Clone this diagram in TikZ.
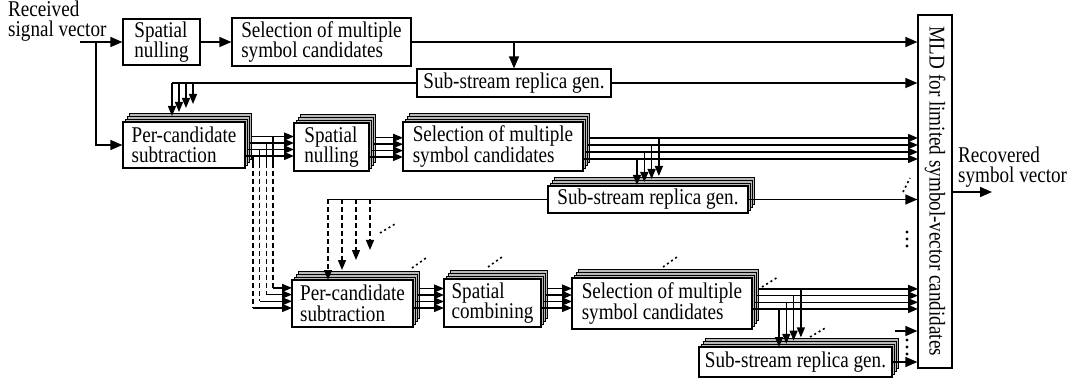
\documentclass[tikz,border=0pt]{standalone}
\usepackage{fontspec}
\setmainfont{Liberation Serif}[FakeStretch=0.85]
\usetikzlibrary{arrows.meta,calc}
\tikzset{
 box/.style={draw, fill=white, line width=1.2pt, inner sep=2pt, align=left},
 layer/.style={draw, fill=gray!55, line width=1pt},
 ln/.style={line width=1.4pt},
 arr/.style={ln, -{Triangle[length=12pt,width=10pt]}},
 sarr/.style={ln, -{Triangle[length=10pt,width=8pt]}},
 dsh/.style={ln, dash pattern=on 5pt off 3pt},
 dotsl/.style={line width=1.6pt, dash pattern=on 2pt off 3pt},
}
\newcommand\stk[6]{%
  \foreach \k in {3,2,1}{\draw[layer] ({#2+2.3*\k},{#3-2.8*\k}) rectangle ({#4+2.3*\k},{#5-2.8*\k});}
  \node[box, minimum width={#4-#2}, minimum height={#5-#3}] (#1) at ({(#2+#4)/2},{(#3+#5)/2}) {#6};
}
\newcommand\vdts{}
\renewcommand\vdts[2]{\foreach \j in {0,1,2}{\fill (#1,{#2+7*\j}) circle (1.6pt);}}
\begin{document}
\begin{tikzpicture}[x=1pt,y=-1pt, every node/.style={font=\fontsize{22.5}{20.5}\selectfont}]
\useasboundingbox (0,0) rectangle (1072,385);

\node[anchor=north west, inner sep=0, align=left] (recv) at (8,0.6) {Received\\signal vector};
\node[box, minimum width=77, minimum height=46] (sn1) at (161.5,42) {Spatial\\nulling};
\node[box, minimum width=179, minimum height=48] (sel1) at (321.5,42) {Selection of multiple\\symbol candidates};
\node[box, minimum width=194, minimum height=28] (rep1) at (514,83) {Sub-stream replica gen.};
\node[box, minimum width=34, minimum height=353] (mld) at (935,191.5) {};
\node[rotate=-90] (mldt) at (mld.center) {MLD for limited symbol-vector candidates};
\node[anchor=north west, inner sep=0, align=left] (outt) at (958,146.6) {Recovered\\symbol vector};

\stk{pc1}{123}{122}{245}{168}{Per-candidate\\subtraction}
\stk{sn2}{294}{123}{369}{171}{Spatial\\nulling}
\stk{sel2}{403}{122}{583}{171}{Selection of multiple\\symbol candidates}
\stk{rep2}{548}{186}{748}{213}{Sub-stream replica gen.}
\stk{pc2}{292}{280}{413}{327}{Per-candidate\\subtraction}
\stk{sc}{444}{279}{541}{327}{Spatial\\combining}
\stk{sel3}{572}{278}{752}{329}{Selection of multiple\\symbol candidates}
\stk{rep3}{699}{347}{892}{377}{Sub-stream replica gen.}

% top row
\coordinate (in) at (80,42);
\draw[arr] (in) -- (sn1.west);
\draw[arr] (sn1.east) -- (sel1.west);
\draw[arr] (sel1.east) -- (sel1.east -| mld.west);
\draw[arr] (sel1.east -| rep1.north) -- (rep1.north);
\draw[arr] (rep1.east) -- (rep1.east -| mld.west);
\coordinate (vin) at (96,42);
\draw[arr] (vin) |- (pc1.west);

% rep1 -> pc1
\coordinate (r1l) at (172,83);
\draw[ln] (rep1.west) -- (r1l);
\foreach \k in {0,...,3} \draw[sarr] ({172+7*\k},83) -- ({172+7*\k},{116-4*\k});

% pc1 -> sn2
\foreach \k in {0,...,3} \draw[sarr] ({245+2.3*\k},{156-6.5*\k}) -- (294,{156-6.5*\k});
% dashed feeds to pc2
\foreach \k in {0,...,3}{
  \pgfmathsetmacro\xx{253+6.7*\k}
  \draw[ln] (\xx,{156-6.5*\k}) -- (\xx,163);
  \draw[dsh] (\xx,163) -- (\xx,{308-6.7*\k});
  \draw[sarr] (\xx,{308-6.7*\k}) -- (292,{308-6.7*\k});
}
% sn2 -> sel2
\foreach \k in {0,...,3} \draw[sarr] ({369+2.3*\k},{157-6.4*\k}) -- (403,{157-6.4*\k});
% sel2 -> mld
\foreach \k in {0,...,3} \draw[sarr] ({583+2.3*\k},{159-7*\k}) -- (918,{159-7*\k});
% sel2 -> rep2
\foreach \k in {0,...,3} \draw[sarr] ({637+7.3*\k},{159-7*\k}) -- ({637+7.3*\k},{185-3*\k});
% rep2 -> pc2 (dashed)
\coordinate (r2l) at (328,199.5);
\draw[ln] (rep2.west) -- (r2l);
\foreach \k/\t in {0/280,1/270,2/260,3/250} \draw[dsh, -{Triangle[length=10pt,width=8pt]}] ({328+14*\k},199.5) -- ({328+14*\k},\t);
% rep2 -> mld
\draw[arr] (rep2.east) -- (rep2.east -| mld.west);

% lower row
\foreach \k in {0,...,3} \draw[sarr] ({413+2.3*\k},{308-6.5*\k}) -- (444,{308-6.5*\k});
\foreach \k in {0,...,3} \draw[sarr] ({541+2.3*\k},{308-6.5*\k}) -- (572,{308-6.5*\k});
\foreach \k in {0,...,3} \draw[sarr] ({752+2.3*\k},{309-6.7*\k}) -- (918,{309-6.7*\k});
\foreach \k in {0,...,3} \draw[sarr] ({779+7.3*\k},{309-6.7*\k}) -- ({779+7.3*\k},{347-3.2*\k});
\draw[arr] (rep3.east) -- (rep3.east -| mld.west);
\coordinate (sa) at (895,331);
\draw[arr] (sa) -- (sa -| mld.west);

% output
\coordinate (mo) at (952,192);
\coordinate (mo2) at (992,192);
\draw[arr] (mo) -- (mo2);

% continuation dots
\draw[dotsl] (380,233) -- (395,224);
\draw[dotsl] (412,268) -- (426,258);
\draw[dotsl] (488,267) -- (502,257);
\draw[dotsl] (663,267) -- (677,257);
\draw[dotsl] (762,287) -- (778,277);
\draw[dotsl] (810,337) -- (827,327);
\draw[dotsl] (903,192) -- (910,178);
\vdts{907}{232}
\vdts{907}{340}
\end{tikzpicture}
\end{document}
